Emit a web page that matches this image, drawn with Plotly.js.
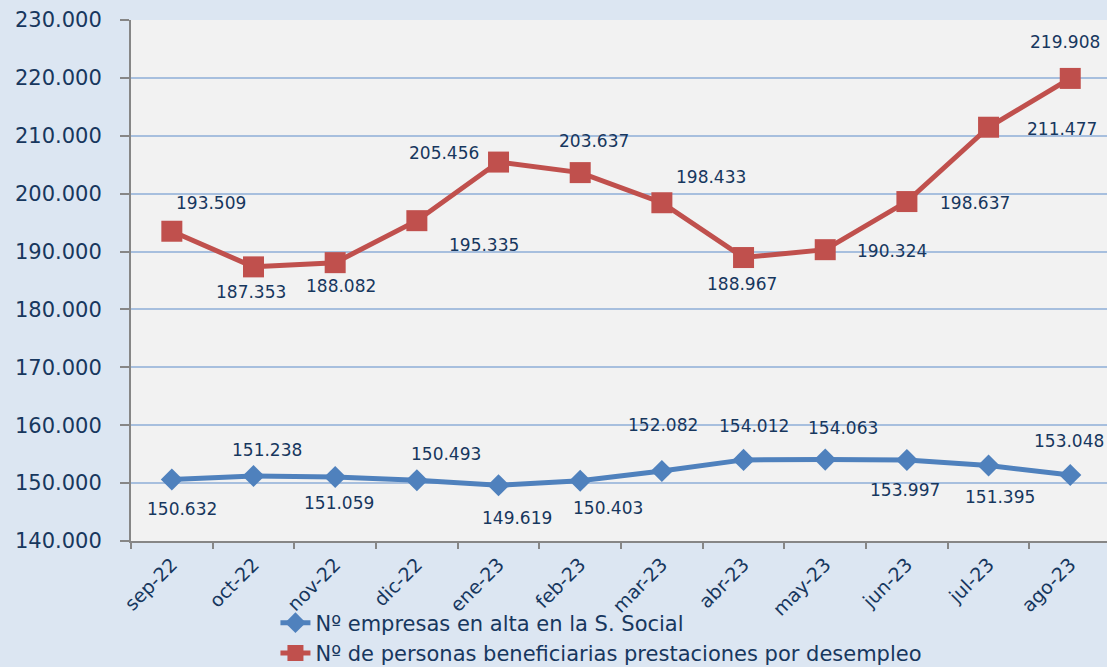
<!DOCTYPE html>
<html>
<head>
<meta charset="utf-8">
<script src="https://cdn.plot.ly/plotly-3.0.1.min.js"></script>
<style>
html,body{margin:0;padding:0;background:#dce6f2;overflow:hidden;}
#chart{width:1107px;height:690px;}
</style>
</head>
<body>
<div id="chart"></div>
<script>
// ---- Data ----
var months = ['sep-22','oct-22','nov-22','dic-22','ene-23','feb-23','mar-23','abr-23','may-23','jun-23','jul-23','ago-23'];
var empresas = [150632,151238,151059,150493,149619,150403,152082,154012,154063,153997,153048,151395];
var beneficiarios = [193509,187353,188082,195335,205456,203637,198433,188967,190324,198637,211477,219908];
var seriesNames = ['Nº empresas en alta en la S. Social','Nº de personas beneficiarias prestaciones por desempleo'];

// ---- Label placement (pixel offsets from each point) ----
var empOffX = [10,13,4,29,18,28,1,10,18,-2,80,-70];
var empOffY = [-30,26,-26,26,-33,-27,46,34,32,-30,24,-22];
var benOffX = [39,-3,6,67,-55,14,49,-2,67,68,73,-5];
var benOffY = [28,-25,-23,-24,9,32,26,-26,-1,-1,-2,36];

function fmt(n){ return String(n).replace(/\B(?=(\d{3})+(?!\d))/g,'.'); }

var navy = '#17375e';
var annotations = [];
function addLabels(vals, ox, oy){
  for (var i=0;i<vals.length;i++){
    annotations.push({x: months[i], y: vals[i], xref:'x', yref:'y', text: fmt(vals[i]),
      showarrow:false, xshift: ox[i], yshift: oy[i],
      font:{family:'DejaVu Sans', size:17, color:navy}});
  }
}
addLabels(empresas, empOffX, empOffY);
addLabels(beneficiarios, benOffX, benOffY);

var traces = [
  {x: months, y: empresas, name: seriesNames[0], type:'scatter', mode:'lines+markers',
   line:{color:'#4f81bd', width:5}, marker:{symbol:'diamond', size:17, color:'#4f81bd'}},
  {x: months, y: beneficiarios, name: seriesNames[1], type:'scatter', mode:'lines+markers',
   line:{color:'#c0504d', width:5}, marker:{symbol:'square', size:21, color:'#c0504d'}}
];

var layout = {
  width:1107, height:690,
  paper_bgcolor:'#dce6f2', plot_bgcolor:'#f2f2f2',
  margin:{l:131, r:0, t:20, b:149},
  separators: ',.',
  showlegend:true,
  legend:{orientation:'v', x:0.148, xanchor:'left', y:-0.118, yanchor:'top',
    font:{family:'DejaVu Sans', size:21, color:navy}, bgcolor:'rgba(0,0,0,0)', tracegroupgap:0},
  xaxis:{type:'category', range:[-0.5, 11.45], tickangle:-45, tickson:'boundaries',
    ticks:'outside', ticklen:6, tickcolor:'#868686', tickwidth:2, ticklabelstandoff:3,
    showline:true, linecolor:'#868686', linewidth:2, showgrid:false,
    tickfont:{family:'DejaVu Sans', size:19, color:navy}},
  yaxis:{range:[140000,230000], dtick:10000, tickformat:',.0f',
    ticks:'outside', ticklen:9, tickcolor:'#868686', tickwidth:2, ticklabelstandoff:14,
    showline:true, linecolor:'#868686', linewidth:2,
    showgrid:true, gridcolor:'#a7bfde', gridwidth:2, zeroline:false,
    tickfont:{family:'DejaVu Sans', size:21, color:navy}},
  annotations: annotations,
  font:{family:'DejaVu Sans', color:navy}
};

Plotly.newPlot('chart', traces, layout, {displayModeBar:false, staticPlot:true});
</script>
</body>
</html>
